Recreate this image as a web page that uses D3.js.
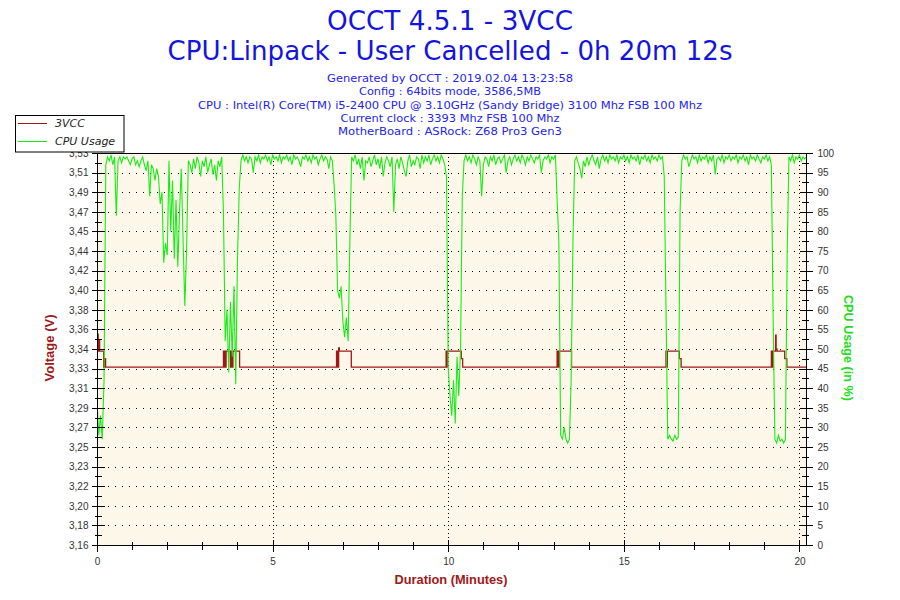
<!DOCTYPE html>
<html>
<head>
<meta charset="utf-8">
<script src="https://cdn.jsdelivr.net/npm/d3@7"></script>
<style>
  body { margin: 0; background: #fff; }
  svg { display: block; }
</style>
</head>
<body>
<svg width="900" height="600"></svg>
<script>
// ---- data ----
const titleLines = ["OCCT 4.5.1 - 3VCC", "CPU:Linpack - User Cancelled - 0h 20m 12s"];
const infoLines = [
  "Generated by OCCT : 2019.02.04 13:23:58",
  "Config : 64bits mode, 3586,5MB",
  "CPU : Intel(R) Core(TM) i5-2400 CPU @ 3.10GHz (Sandy Bridge) 3100 Mhz FSB 100 Mhz",
  "Current clock : 3393 Mhz FSB 100 Mhz",
  "MotherBoard : ASRock: Z68 Pro3 Gen3"
];
const legendLabels = ["3VCC", "CPU Usage"];
const timeTicks = [0, 5, 10, 15, 20];
const timeMinorTicks = [1, 2, 3, 4, 6, 7, 8, 9, 11, 12, 13, 14, 16, 17, 18, 19];
const cpuTicks = [0, 5, 10, 15, 20, 25, 30, 35, 40, 45, 50, 55, 60, 65, 70, 75, 80, 85, 90, 95, 100];
const voltTickLabels = ["3,16", "3,18", "3,20", "3,22", "3,23", "3,25", "3,27", "3,29", "3,31", "3,33", "3,34",
  "3,36", "3,38", "3,40", "3,42", "3,44", "3,45", "3,47", "3,49", "3,51", "3,53"];
const voltRange = [3.16, 3.528];
const duration = 20.2; // minutes

// CPU usage (%), one sample every 0.05 min
const cpuStep = 0.05;
const cpuUsage = [
  37, 28, 33, 27, 42, 97, 99, 98, 99.5, 97,
  99, 84, 98, 99, 97.5, 99, 98.5, 99, 98, 97,
  98.5, 99, 97, 98, 96.5, 98, 99, 97, 95.5, 98,
  89, 97, 96, 93, 96, 94, 87, 90, 72, 77,
  74, 98, 80, 93, 73, 88, 71, 85, 96, 78,
  61, 75, 98, 97, 95, 98.5, 96, 99, 97.5, 94,
  98, 96.5, 99, 95, 97, 98.5, 94.5, 97, 93, 98,
  96.5, 99, 85, 52, 60, 44, 62, 48, 66, 41,
  73, 91, 98, 99.5, 98, 99, 97.5, 99, 98.5, 95,
  99, 98, 99.5, 97.5, 99, 98.5, 99.5, 98, 99, 97,
  99.5, 98.5, 99, 98, 99.5, 97.5, 99, 98.5, 99.5, 98,
  99, 97, 99.5, 98.5, 99, 98, 96.5, 99, 98.5, 99.5,
  98, 99, 97.5, 99.5, 98.5, 99, 97, 98.5, 99.5, 98,
  99, 98.5, 96, 99, 98, 92, 84, 65, 63, 66,
  57, 53, 58, 52, 78, 99, 98, 99.5, 97, 98.5,
  96, 99, 93, 98, 97.5, 99, 96.5, 98, 99.5, 97,
  98.5, 96, 99, 94, 97.5, 99, 98, 96.5, 99, 85,
  97, 98.5, 96, 99, 97.5, 95.5, 94, 98, 99.5, 96.5,
  98, 97, 99, 98.5, 96, 99.5, 97.5, 99, 98, 99.5,
  97, 98.5, 99.5, 98, 99, 97.5, 99.5, 98.5, 97, 94,
  45, 38, 33, 42, 31, 48, 38, 50, 89, 98,
  99.5, 98, 99, 97.5, 99.5, 98.5, 97, 99, 98, 89,
  97, 99, 98.5, 96.5, 99, 98, 99.5, 97, 98.5, 99,
  97.5, 98.5, 99.5, 95, 98, 99, 97, 98.5, 99.5, 98,
  99, 97.5, 99.5, 98.5, 97, 99, 98, 99.5, 98.5, 97.5,
  99, 98.5, 99.5, 95, 98, 99, 98.5, 99.5, 97.5, 99,
  98.5, 99.5, 88, 77, 28, 27, 30, 27, 26, 27,
  42, 77, 98, 99, 97.5, 96, 93.5, 98, 96.5, 99,
  97, 98.5, 99.5, 98, 97, 99, 96, 98.5, 99.5, 98,
  99, 97.5, 99.5, 98.5, 99, 98, 99.5, 97.5, 99, 98.5,
  99.5, 98, 99, 97.5, 99.5, 98.5, 99, 98, 99.5, 97,
  99, 98.5, 99.5, 98, 99, 97.5, 99.5, 98.5, 99, 98,
  99.5, 98.5, 99, 94, 60, 27, 28, 27, 26.5, 28,
  27, 27.5, 85, 98, 99.5, 98.5, 99, 96.5, 98, 99.5,
  98.5, 99, 97.5, 99.5, 98, 99, 98.5, 99.5, 97.5, 99,
  98, 99.5, 94.5, 98.5, 99, 98, 99.5, 97.5, 99, 98.5,
  99.5, 98, 99, 98.5, 99.5, 97.5, 99, 98.5, 99.5, 98,
  99, 97, 99.5, 98.5, 99, 98, 99.5, 98.5, 97.5, 99,
  98.5, 99.5, 98, 99, 97, 58, 27, 26, 28, 26.5,
  27, 26, 27, 74, 99, 98, 99.5, 97.5, 99, 98.5,
  99.5, 98, 99, 98.5, 99
];

// 3VCC voltage steps: [minute, volts]
const voltage = [
  [0, 3.342], [0.02, 3.358], [0.035, 3.342], [0.06, 3.352], [0.075, 3.342],
  [0.19, 3.327], [0.225, 3.335], [0.245, 3.327],
  [3.6, 3.342], [3.615, 3.327], [3.625, 3.342], [3.64, 3.327], [3.65, 3.342], [3.665, 3.327], [3.675, 3.342],
  [3.8, 3.327], [3.81, 3.342], [3.83, 3.327], [3.84, 3.342], [3.86, 3.327], [3.87, 3.342], [4.06, 3.327],
  [6.82, 3.342], [6.84, 3.327], [6.85, 3.342], [6.87, 3.327], [6.88, 3.345], [6.9, 3.342], [7.24, 3.327],
  [9.94, 3.342], [9.96, 3.327], [9.97, 3.342], [10.37, 3.335], [10.41, 3.327],
  [13.1, 3.342], [13.12, 3.327], [13.13, 3.342], [13.15, 3.327], [13.16, 3.342], [13.51, 3.327],
  [16.2, 3.342], [16.21, 3.327], [16.22, 3.342], [16.23, 3.327], [16.24, 3.342], [16.58, 3.335], [16.63, 3.327],
  [19.2, 3.342], [19.21, 3.327], [19.22, 3.342], [19.24, 3.327], [19.25, 3.342], [19.32, 3.357],
  [19.335, 3.344], [19.36, 3.342], [19.58, 3.335], [19.64, 3.327],
  [20.2, 3.327]
];

// ---- layout ----
const svg = d3.select("svg");
const plot = { left: 97, right: 806.5, top: 153, bottom: 545 };
const titleFont = "'DejaVu Sans', Verdana, sans-serif";
const axisFont = "'Liberation Sans', Arial, sans-serif";
const voltColor = "#a01818";
const cpuColor = "#16ee16";

const x = d3.scaleLinear().domain([0, duration]).range([plot.left, plot.right]);
const yCpu = d3.scaleLinear().domain([0, 100]).range([plot.bottom, plot.top]);
const yVolt = d3.scaleLinear().domain(voltRange).range([plot.bottom, plot.top]);
const voltTickValues = voltTickLabels.map((_, i) =>
  voltRange[0] + (i * (voltRange[1] - voltRange[0])) / (voltTickLabels.length - 1));

// titles
const titleBaselines = [29.5, 59.5];
const titleWidths = [246, 565];
svg.selectAll(".title")
  .data(titleLines)
  .enter()
  .append("text")
  .attr("class", "title")
  .attr("x", 450)
  .attr("y", (d, i) => titleBaselines[i])
  .attr("text-anchor", "middle")
  .attr("font-family", titleFont)
  .attr("font-size", 26.5)
  .attr("fill", "#1414e0")
  .attr("textLength", (d, i) => titleWidths[i])
  .attr("lengthAdjust", "spacingAndGlyphs")
  .text(d => d);

const infoWidths = [246, 182, 504, 219, 224];
svg.selectAll(".info")
  .data(infoLines)
  .enter()
  .append("text")
  .attr("class", "info")
  .attr("x", 450)
  .attr("y", (d, i) => 81.7 + i * 13.4)
  .attr("text-anchor", "middle")
  .attr("font-family", titleFont)
  .attr("font-size", 11)
  .attr("fill", "#2424f0")
  .attr("textLength", (d, i) => infoWidths[i])
  .attr("lengthAdjust", "spacingAndGlyphs")
  .text(d => d);

// plot background and grid
svg.append("rect")
  .attr("x", plot.left)
  .attr("y", plot.top)
  .attr("width", plot.right - plot.left)
  .attr("height", plot.bottom - plot.top)
  .attr("fill", "#fdf7e9");

const grid = svg.append("g").attr("shape-rendering", "crispEdges");
grid.selectAll(".hgrid")
  .data(cpuTicks.slice(1, -1))
  .enter()
  .append("line")
  .attr("x1", plot.left + 4)
  .attr("x2", plot.right)
  .attr("y1", d => Math.round(yCpu(d)) + 0.5)
  .attr("y2", d => Math.round(yCpu(d)) + 0.5)
  .attr("stroke", "#000")
  .attr("stroke-dasharray", "1,6");
grid.selectAll(".vgrid")
  .data(timeTicks.slice(1))
  .enter()
  .append("line")
  .attr("x1", d => Math.round(x(d)) + 0.5)
  .attr("x2", d => Math.round(x(d)) + 0.5)
  .attr("y1", plot.top)
  .attr("y2", plot.bottom)
  .attr("stroke", "#000")
  .attr("stroke-dasharray", "1,3");

// series
svg.append("clipPath")
  .attr("id", "plot-clip")
  .append("rect")
  .attr("x", plot.left)
  .attr("y", plot.top)
  .attr("width", plot.right - plot.left)
  .attr("height", plot.bottom - plot.top);

const series = svg.append("g").attr("clip-path", "url(#plot-clip)");

const voltLine = d3.line()
  .x(d => x(d[0]))
  .y(d => yVolt(d[1]))
  .curve(d3.curveStepAfter);
series.append("path")
  .datum(voltage)
  .attr("d", voltLine)
  .attr("fill", "none")
  .attr("stroke", voltColor)
  .attr("stroke-width", 1.3);

const cpuLine = d3.line()
  .x((d, i) => x(i * cpuStep))
  .y(d => yCpu(d));
series.append("path")
  .datum(cpuUsage)
  .attr("d", cpuLine)
  .attr("fill", "none")
  .attr("stroke", cpuColor)
  .attr("stroke-width", 1.1);

// frame
svg.append("rect")
  .attr("x", plot.left + 0.5)
  .attr("y", plot.top + 0.5)
  .attr("width", plot.right - plot.left - 0.5)
  .attr("height", plot.bottom - plot.top)
  .attr("fill", "none")
  .attr("stroke", "#000")
  .attr("shape-rendering", "crispEdges");

// axes
const styleAxis = g => {
  g.select(".domain").remove();
  g.attr("font-family", axisFont).attr("font-size", 10);
  g.selectAll(".tick text").attr("fill", "#333");
  g.selectAll(".tick line").attr("stroke", "#000").attr("shape-rendering", "crispEdges");
};

const yLeftAxis = d3.axisLeft(yVolt)
  .tickValues(voltTickValues)
  .tickSize(6)
  .tickPadding(3)
  .tickFormat((d, i) => voltTickLabels[i]);
const yLeftG = svg.append("g")
  .attr("transform", `translate(${plot.left + 0.5},0)`)
  .call(yLeftAxis)
  .call(styleAxis);
yLeftG.selectAll(".tick line").attr("x1", 7);
yLeftG.selectAll(".minor")
  .data(voltTickValues.slice(1).map((v, i) => (v + voltTickValues[i]) / 2))
  .enter()
  .append("line")
  .attr("x1", -3)
  .attr("x2", 4)
  .attr("y1", d => Math.round(yVolt(d)) + 0.5)
  .attr("y2", d => Math.round(yVolt(d)) + 0.5)
  .attr("stroke", "#000")
  .attr("shape-rendering", "crispEdges");

const yRightAxis = d3.axisRight(yCpu)
  .tickValues(cpuTicks)
  .tickSize(6)
  .tickPadding(5);
const yRightG = svg.append("g")
  .attr("transform", `translate(${plot.right},0)`)
  .call(yRightAxis)
  .call(styleAxis);
yRightG.selectAll(".tick line").attr("x1", -7);
yRightG.selectAll(".minor")
  .data(cpuTicks.slice(1).map(v => v - 2.5))
  .enter()
  .append("line")
  .attr("x1", -5)
  .attr("x2", 2)
  .attr("y1", d => Math.round(yCpu(d)) + 0.5)
  .attr("y2", d => Math.round(yCpu(d)) + 0.5)
  .attr("stroke", "#000")
  .attr("shape-rendering", "crispEdges");

const xAxis = d3.axisBottom(x)
  .tickValues(timeTicks)
  .tickSize(6)
  .tickPadding(6);
const xAxisG = svg.append("g")
  .attr("transform", `translate(0,${plot.bottom + 0.5})`)
  .call(xAxis)
  .call(styleAxis);
xAxisG.selectAll(".tick line").attr("y1", -6);
xAxisG.selectAll(".minor")
  .data(timeMinorTicks)
  .enter()
  .append("line")
  .attr("x1", d => Math.round(x(d)) + 0.5)
  .attr("x2", d => Math.round(x(d)) + 0.5)
  .attr("y1", -4)
  .attr("y2", 4)
  .attr("stroke", "#000")
  .attr("shape-rendering", "crispEdges");

// axis titles
svg.append("text")
  .attr("transform", "rotate(-90)")
  .attr("x", -348)
  .attr("y", 49)
  .attr("dy", "0.35em")
  .attr("text-anchor", "middle")
  .attr("font-family", axisFont)
  .attr("font-weight", "bold")
  .attr("font-size", 13)
  .attr("fill", voltColor)
  .attr("textLength", 67)
  .attr("lengthAdjust", "spacingAndGlyphs")
  .text("Voltage (V)");

svg.append("text")
  .attr("transform", "rotate(90)")
  .attr("x", 348)
  .attr("y", -849)
  .attr("dy", "0.35em")
  .attr("text-anchor", "middle")
  .attr("font-family", axisFont)
  .attr("font-weight", "bold")
  .attr("font-size", 13)
  .attr("fill", "#22dd22")
  .attr("textLength", 106)
  .attr("lengthAdjust", "spacingAndGlyphs")
  .text("CPU Usage (in %)");

svg.append("text")
  .attr("x", 451)
  .attr("y", 584)
  .attr("text-anchor", "middle")
  .attr("font-family", axisFont)
  .attr("font-weight", "bold")
  .attr("font-size", 13)
  .attr("fill", voltColor)
  .attr("textLength", 113)
  .attr("lengthAdjust", "spacingAndGlyphs")
  .text("Duration (Minutes)");

// legend
const legend = svg.append("g");
legend.append("rect")
  .attr("x", 15.5)
  .attr("y", 115.5)
  .attr("width", 108.5)
  .attr("height", 36.5)
  .attr("fill", "#fff")
  .attr("stroke", "#000");
const legendColors = [voltColor, cpuColor];
const legendItems = legend.selectAll(".item")
  .data(legendLabels)
  .enter()
  .append("g")
  .attr("transform", (d, i) => `translate(0,${123.5 + i * 18})`);
legendItems.append("line")
  .attr("x1", 18)
  .attr("x2", 47)
  .attr("stroke", (d, i) => legendColors[i])
  .attr("stroke-width", 1);
legendItems.append("text")
  .attr("x", 55)
  .attr("dy", "0.35em")
  .attr("font-family", titleFont)
  .attr("font-style", "italic")
  .attr("font-size", 11)
  .attr("fill", "#222")
  .text(d => d);
</script>
</body>
</html>
